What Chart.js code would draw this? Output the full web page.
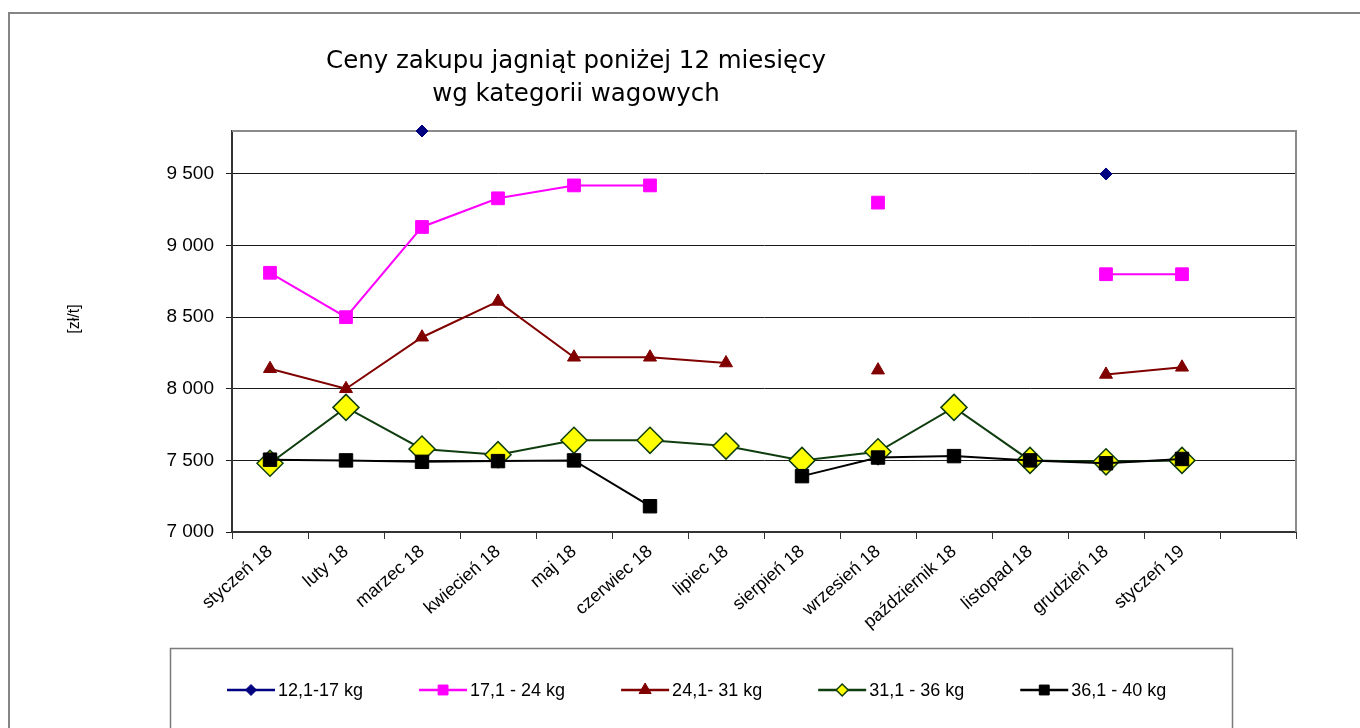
<!DOCTYPE html>
<html>
<head>
<meta charset="utf-8">
<script src="https://cdn.jsdelivr.net/npm/chart.js@4/dist/chart.umd.min.js"></script>
<style>
html,body{margin:0;padding:0;background:#fff;overflow:hidden;}
#wrap{width:1360px;height:728px;position:relative;}
</style>
</head>
<body>
<div id="wrap"><canvas id="c" width="1360" height="728"></canvas></div>
<script>
// ---- data ----
const categories = ['styczeń 18','luty 18','marzec 18','kwiecień 18','maj 18','czerwiec 18','lipiec 18','sierpień 18','wrzesień 18','październik 18','listopad 18','grudzień 18','styczeń 19',''];
const seriesNames = ['12,1-17 kg','17,1 - 24 kg','24,1- 31 kg','31,1 - 36 kg','36,1 - 40 kg'];
const w12_17 = [null,null,9800,null,null,null,null,null,null,null,null,9500,null,null];
const w17_24 = [8810,8500,9130,9330,9420,9420,null,null,9300,null,null,8800,8800,null];
const w24_31 = [8140,8000,8360,8610,8220,8220,8180,null,8130,null,null,8100,8150,null];
const w31_36 = [7480,7870,7580,7540,7640,7640,7600,7500,7560,7870,7500,7490,7500,null];
const w36_40 = [7505,7500,7490,7495,7500,7180,null,7390,7520,7530,7500,7480,7510,null];
const yTicks = [7000,7500,8000,8500,9000,9500];
const yMin = 7000, yMax = 9800;
const titleLines = ['Ceny zakupu jagniąt poniżej 12 miesięcy','wg kategorii wagowych'];
const yTitle = '[zł/t]';

const FONT = "'Liberation Sans', Arial, sans-serif";

function fmt(v){ return String(v).replace(/\B(?=(\d{3})+(?!\d))/g,' '); }

function drawMarker(ctx, style, x, y, r, fill, stroke, bw){
  ctx.save();
  ctx.beginPath();
  if(style==='rect'){
    const s = r*Math.SQRT1_2;
    ctx.rect(x-s,y-s,2*s,2*s);
  } else if(style==='rectRot'){
    ctx.moveTo(x-r,y); ctx.lineTo(x,y-r); ctx.lineTo(x+r,y); ctx.lineTo(x,y+r); ctx.closePath();
  } else if(style==='triangle'){
    let a=0;
    ctx.moveTo(x+Math.sin(a)*r, y-Math.cos(a)*r);
    a+=2*Math.PI/3; ctx.lineTo(x+Math.sin(a)*r, y-Math.cos(a)*r);
    a+=2*Math.PI/3; ctx.lineTo(x+Math.sin(a)*r, y-Math.cos(a)*r);
    ctx.closePath();
  }
  ctx.fillStyle = fill; ctx.fill();
  if(bw>0){ ctx.lineWidth=bw; ctx.strokeStyle=stroke; ctx.stroke(); }
  ctx.restore();
}

const chrome = {
  id:'chrome',
  beforeDraw(chart){
    const ctx = chart.ctx;
    ctx.save();
    ctx.fillStyle='#fff'; ctx.fillRect(0,0,chart.width,chart.height);
    // outer frame
    ctx.strokeStyle='#858585'; ctx.lineWidth=2;
    ctx.beginPath(); ctx.moveTo(9,729); ctx.lineTo(9,13); ctx.lineTo(1361,13); ctx.stroke();
    // legend box
    ctx.lineWidth=1.5; ctx.strokeStyle='#7a7a7a';
    ctx.beginPath(); ctx.moveTo(170.5,729); ctx.lineTo(170.5,648.5); ctx.lineTo(1232.5,648.5); ctx.lineTo(1232.5,729); ctx.stroke();
    // title
    ctx.fillStyle='#000'; ctx.textAlign='center'; ctx.textBaseline='middle';
    let fs = 21;
    ctx.font = fs+"px 'DejaVu Sans', sans-serif";
    const w = ctx.measureText(titleLines[0]).width;
    fs = fs*500/w;
    ctx.font = fs.toFixed(2)+"px 'DejaVu Sans', sans-serif";
    ctx.fillText(titleLines[0], 576, 62);
    ctx.fillText(titleLines[1], 576, 95);
    // y title
    ctx.translate(75,319); ctx.rotate(-Math.PI/2);
    ctx.font = "16px "+FONT; ctx.fillText(yTitle,0,0);
    ctx.restore();
  },
  beforeDatasetsDraw(chart){
    const ctx = chart.ctx, a = chart.chartArea;
    ctx.save();
    ctx.strokeStyle='#8a8a8a'; ctx.lineWidth=2;
    ctx.beginPath(); ctx.moveTo(a.left, a.top); ctx.lineTo(a.right, a.top); ctx.lineTo(a.right, a.bottom); ctx.stroke();
    ctx.restore();
  },
  afterDraw(chart){
    const ctx = chart.ctx;
    ctx.save();
    ctx.font = "18px "+FONT; ctx.textBaseline='middle'; ctx.textAlign='left';
    const legendR = [5.5,7,7,6,7];
    let x = 227; const y = 690;
    chart.data.datasets.forEach((ds,i)=>{
      ctx.strokeStyle = ds.borderColor; ctx.lineWidth = 2.5;
      ctx.beginPath(); ctx.moveTo(x,y); ctx.lineTo(x+48,y); ctx.stroke();
      drawMarker(ctx, ds.pointStyle, x+24, y, legendR[i], ds.pointBackgroundColor, ds.pointBorderColor, ds.pointBorderWidth);
      ctx.fillStyle='#000';
      ctx.fillText(ds.label, x+51, y+1);
      x += 51 + ctx.measureText(ds.label).width + 56;
    });
    ctx.restore();
  }
};

const mk = (label, data, color, style, r, fill, stroke, bw, order) => ({
  label, data, borderColor: color, borderWidth: 2,
  pointStyle: style, pointRadius: r, pointBackgroundColor: fill,
  pointBorderColor: stroke, pointBorderWidth: bw, order,
  spanGaps:false, tension:0, clip:false, fill:false
});

new Chart(document.getElementById('c'), {
  type:'line',
  data:{
    labels: categories,
    datasets:[
      mk(seriesNames[0], w12_17, '#000080', 'rectRot', 6, '#000080', '#000080', 1, 5),
      mk(seriesNames[1], w17_24, '#ff00ff', 'rect', 9, '#ff00ff', '#ff00ff', 1, 4),
      mk(seriesNames[2], w24_31, '#800000', 'triangle', 7.5, '#800000', '#800000', 1, 3),
      mk(seriesNames[3], w31_36, '#0f3d0f', 'rectRot', 13, '#ffff00', '#0f3d0f', 1.5, 2),
      mk(seriesNames[4], w36_40, '#000000', 'rect', 9.5, '#000000', '#000000', 1, 1)
    ]
  },
  options:{
    responsive:false, animation:false, devicePixelRatio:1, events:[],
    layout:{ padding:{ left:40, top:131, right:64, bottom:76 } },
    plugins:{ legend:{display:false}, title:{display:false}, tooltip:{enabled:false} },
    scales:{
      x:{
        offset:true,
        grid:{ display:true, offset:true, drawOnChartArea:false, drawTicks:true, tickLength:7, color:'#333', lineWidth:1 },
        border:{ display:true, color:'#333', width:2 },
        ticks:{ font:{ family:FONT, size:18 }, color:'#000', minRotation:41, maxRotation:41, padding:2, autoSkip:false },
        afterFit(s){ s.height = 120; }
      },
      y:{
        min:yMin, max:yMax,
        grid:{ color:'#1a1a1a', lineWidth:1, drawTicks:true, tickLength:6 },
        border:{ display:true, color:'#333', width:2 },
        ticks:{ font:{ family:FONT, size:19 }, color:'#000', padding:12, autoSkip:false, callback:(v)=>fmt(v) },
        afterBuildTicks(s){ s.ticks = yTicks.map(v => ({ value: v })); },
        afterFit(s){ s.width = 192; }
      }
    }
  },
  plugins:[chrome]
});
</script>
</body>
</html>
